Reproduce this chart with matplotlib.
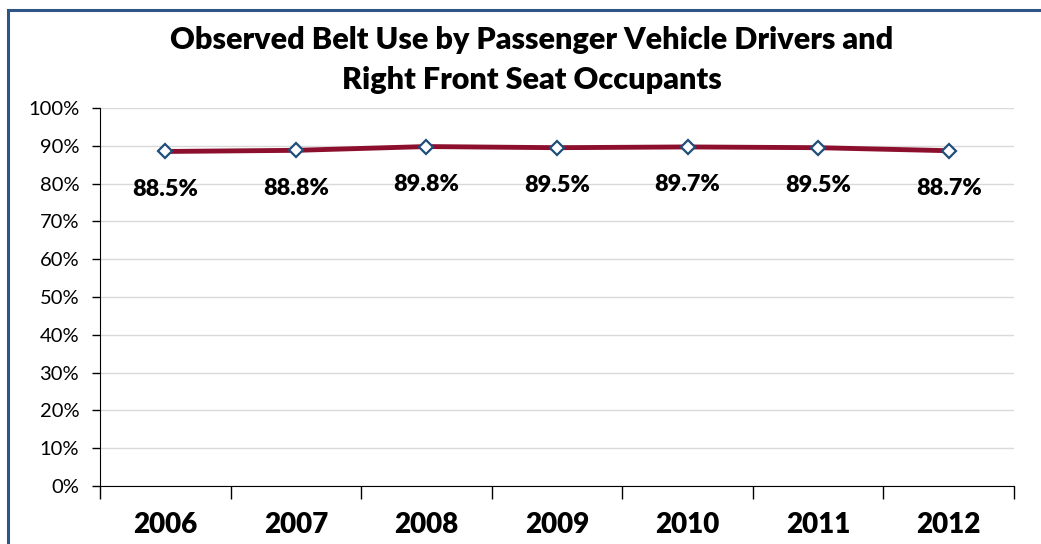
import matplotlib
matplotlib.use("Agg")
import matplotlib.pyplot as plt
from matplotlib.lines import Line2D
from matplotlib.ticker import FixedLocator, PercentFormatter

years = ["2006", "2007", "2008", "2009", "2010", "2011", "2012"]
belt_use = [88.5, 88.8, 89.8, 89.5, 89.7, 89.5, 88.7]
y_ticks = [0, 10, 20, 30, 40, 50, 60, 70, 80, 90, 100]
title = "Observed Belt Use by Passenger Vehicle Drivers and\nRight Front Seat Occupants"

plt.rcParams['font.family'] = ['Lato', 'DejaVu Sans']

W, H = 1041, 544
fig = plt.figure(figsize=(W / 100, H / 100), dpi=100)
ax = fig.add_axes([100 / W, 1 - 486 / H, (1014 - 100) / W, (486 - 108) / H])

x = list(range(len(years)))
ax.plot(x, belt_use, color="#8C0F2E", lw=3.5, zorder=3, solid_capstyle="butt")
ax.plot(x, belt_use, linestyle="none", marker="D", markersize=7,
        markerfacecolor="white", markeredgecolor="#1F4E79", markeredgewidth=1.6, zorder=4)

for xi, v in zip(x, belt_use):
    ax.annotate(f"{v:.1f}%", (xi, v), xytext=(0, -38), textcoords="offset pixels",
                ha="center", va="center", fontsize=16.8, fontweight="heavy", color="black", zorder=5)

ax.set_xlim(-0.5, len(years) - 0.5)
ax.set_ylim(0, 100)
ax.set_yticks(y_ticks)
ax.yaxis.set_major_formatter(PercentFormatter(decimals=0))
ax.tick_params(axis="y", direction="out", length=6, width=1, labelsize=14.5, pad=9, colors="black")

ax.xaxis.set_major_locator(FixedLocator([i - 0.5 for i in range(len(years) + 1)]))
ax.xaxis.set_minor_locator(FixedLocator(x))
ax.set_xticks(x, years, minor=True)
ax.tick_params(axis="x", which="major", direction="out", length=9, width=1, labelbottom=False)
ax.tick_params(axis="x", which="minor", length=0, labelsize=20, pad=19)
for lbl in ax.get_xticklabels(minor=True):
    lbl.set_fontweight("heavy")

ax.grid(axis="y", color="#D9D9D9", lw=1)
ax.set_axisbelow(True)
for s in ["top", "right"]:
    ax.spines[s].set_visible(False)
ax.spines["left"].set_color("black")
ax.spines["bottom"].set_color("black")

fig.text(532 / W, 1 - 60 / H, title, ha="center", va="center",
         fontsize=22, fontweight="heavy", linespacing=1.55)

border_color = "#2F5587"
fig.add_artist(Line2D([7.5 / W, 7.5 / W], [0, 1 - 10 / H], color=border_color, lw=2.2,
                      transform=fig.transFigure, solid_capstyle="projecting"))
fig.add_artist(Line2D([7.5 / W, 1], [1 - 10 / H, 1 - 10 / H], color=border_color, lw=2.2,
                      transform=fig.transFigure, solid_capstyle="projecting"))

fig.savefig("out.png", dpi=100)
